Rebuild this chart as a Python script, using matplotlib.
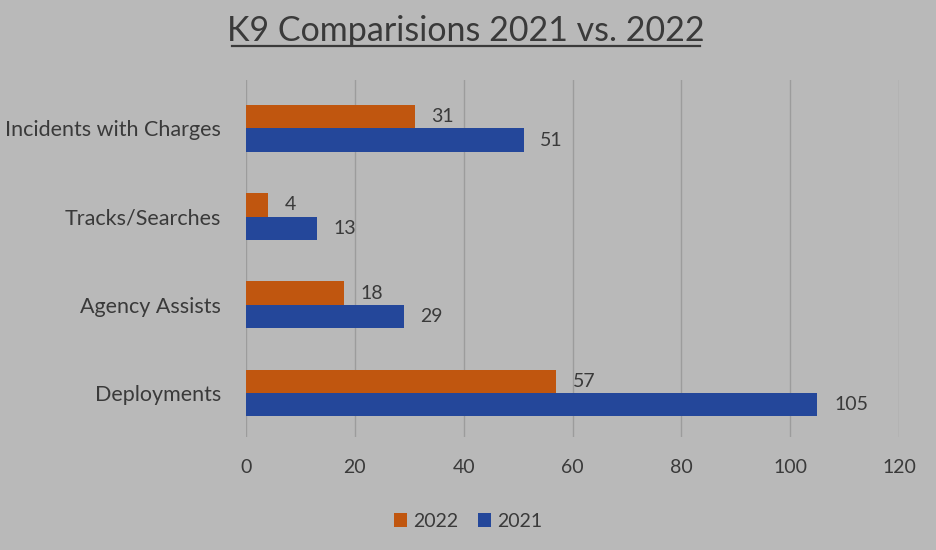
import numpy as np
import matplotlib.pyplot as plt
from matplotlib.lines import Line2D

# K9 activity counts, listed bottom to top as drawn
categories = ["Deployments", "Agency Assists", "Tracks/Searches", "Incidents with Charges"]
counts_2022 = [57, 18, 4, 31]
counts_2021 = [105, 29, 13, 51]
x_ticks = [0, 20, 40, 60, 80, 100, 120]

BG = "#b9b9b9"
ORANGE = "#c0560f"
BLUE = "#24479a"
TEXT = "#3a3a3a"

plt.rcParams["font.family"] = ["Lato", "DejaVu Sans"]

fig = plt.figure(figsize=(9.36, 5.5), dpi=100, facecolor=BG)
ax = fig.add_axes([0.2628, 0.2055, 0.6977, 0.649], facecolor=BG)

y = np.arange(len(categories))
h = 0.265
b22 = ax.barh(y + h / 2, counts_2022, height=h, color=ORANGE, label="2022", zorder=3)
b21 = ax.barh(y - h / 2, counts_2021, height=h, color=BLUE, label="2021", zorder=3)

for bars in (b22, b21):
    for rect in bars:
        w = rect.get_width()
        ax.annotate(f"{w:g}", (w, rect.get_y() + rect.get_height() / 2),
                    xytext=(12, 0), textcoords="offset points",
                    va="center", ha="left", fontsize=14, color=TEXT)

ax.set_xlim(0, 120)
ax.set_ylim(-0.5, 3.55)
ax.set_xticks(x_ticks)
ax.set_yticks(y)
ax.set_yticklabels(categories)
ax.tick_params(axis="x", length=0, labelsize=14, colors=TEXT, pad=16)
ax.tick_params(axis="y", length=0, labelsize=15.5, colors=TEXT, pad=18)
ax.grid(axis="x", color="#9c9c9c", linewidth=1.0, zorder=0)
for s in ax.spines.values():
    s.set_visible(False)

fig.text(0.498, 0.943, "K9 Comparisions 2021 vs. 2022", ha="center", va="center",
         fontsize=24.5, color=TEXT)
# underline under the title
fig.add_artist(Line2D([0.248, 0.748], [0.917, 0.917], color=TEXT, linewidth=1.6,
                      transform=fig.transFigure))

fig.legend(handles=[b22, b21], labels=["2022", "2021"], loc="center",
           bbox_to_anchor=(0.5, 0.052), ncol=2, frameon=False, fontsize=14,
           handlelength=0.7, handleheight=0.7, handletextpad=0.3, columnspacing=1.0,
           labelcolor=TEXT)

fig.savefig("out.png", dpi=100, facecolor=BG)
